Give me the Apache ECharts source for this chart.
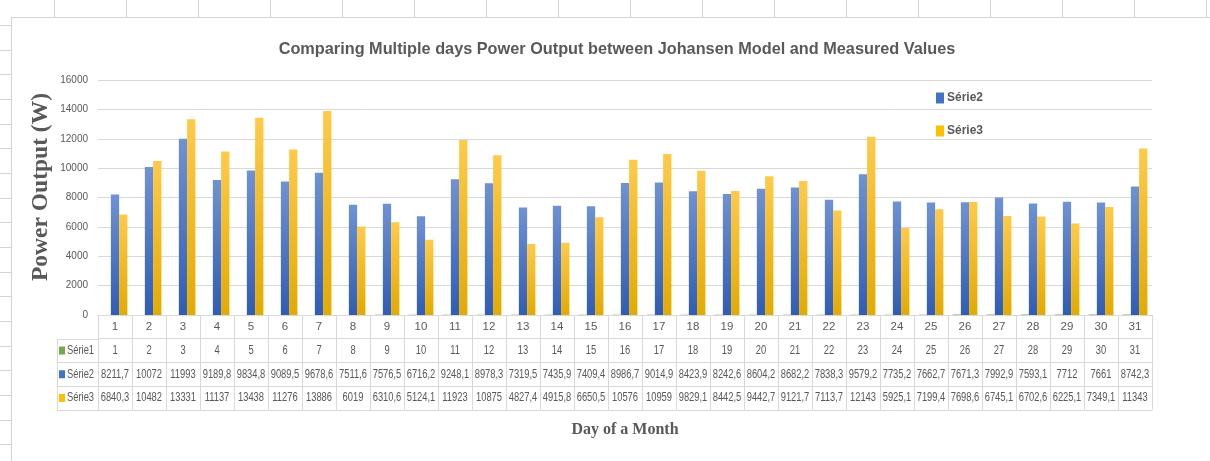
<!DOCTYPE html>
<html>
<head>
<meta charset="utf-8">
<script src="https://cdn.jsdelivr.net/npm/echarts@6/dist/echarts.min.js"></script>
<style>
  html, body { margin: 0; padding: 0; background: #ffffff; }
  #chart { width: 1210px; height: 461px; }
</style>
</head>
<body>
<div id="chart"></div>
<script>
// Days of the month (category axis and first row of the data table)
const days = ['1','2','3','4','5','6','7','8','9','10','11','12','13','14','15','16',
              '17','18','19','20','21','22','23','24','25','26','27','28','29','30','31'];

// Série1: day index series (drawn but practically flat on this scale)
const serie1 = [1,2,3,4,5,6,7,8,9,10,11,12,13,14,15,16,17,18,19,20,21,22,23,24,25,26,27,28,29,30,31];

// Série2: Johansen model power output (W)
const serie2 = [8211.7, 10072, 11993, 9189.8, 9834.8, 9089.5, 9678.6, 7511.6, 7576.5, 6716.2,
                9248.1, 8978.3, 7319.5, 7435.9, 7409.4, 8986.7, 9014.9, 8423.9, 8242.6, 8604.2,
                8682.2, 7838.3, 9579.2, 7735.2, 7662.7, 7671.3, 7992.9, 7593.1, 7712, 7661, 8742.3];

// Série3: measured power output (W)
const serie3 = [6840.3, 10482, 13331, 11137, 13438, 11276, 13886, 6019, 6310.6, 5124.1,
                11923, 10875, 4827.4, 4915.8, 6650.5, 10576, 10959, 9829.1, 8442.5, 9442.7,
                9121.7, 7113.7, 12143, 5925.1, 7199.4, 7698.6, 6745.1, 6702.6, 6225.1, 7349.1, 11343];

const seriesNames = ['Série1', 'Série2', 'Série3'];
const yMin = 0, yMax = 16000, yStep = 2000;

// ---- layout & style ----
const W = 1210, H = 461;
const GRID_L = 98, GRID_R = 1152, GRID_T = 80, GRID_B = 315;
const ROW_H = 23.7;          // data table row height
const TABLE_L = 57;          // left edge of the row-header column
const CELL_SCALE = 0.78;     // horizontal squeeze of the table text
const TEXT = '#595959';
const BORDER = '#d9d9d9';
const SHEET = '#d4d4d4';
const SANS = '"Liberation Sans", Arial, sans-serif';
const SERIF = '"Liberation Serif", "Times New Roman", serif';
const COLORS = ['#70ad47', '#4472c4', '#ffc000'];

const fmt = v => String(v).replace('.', ',');

function grad(top, bottom) {
  return new echarts.graphic.LinearGradient(0, 0, 0, 1, [
    { offset: 0, color: top },
    { offset: 1, color: bottom }
  ]);
}
const fills = [
  grad('#8cc36a', '#5e9a38'),
  grad('#6f92d4', '#2f5cb6'),
  grad('#ffca4a', '#e3aa00')
];

// One category axis per data-table row; its line and ticks form the cell borders
function tableAxis(row, withTicks, extra) {
  return Object.assign({
    type: 'category',
    gridIndex: 0,
    position: 'bottom',
    offset: ROW_H * row,
    data: days,
    boundaryGap: true,
    axisLine: { show: true, lineStyle: { color: BORDER, width: 1 } },
    axisTick: { show: withTicks, interval: 0, length: ROW_H, lineStyle: { color: BORDER, width: 1 } },
    axisLabel: { show: false },
    splitLine: { show: false }
  }, extra || {});
}

function cellText(x, y, text, align) {
  return {
    type: 'text', x: x, y: y, scaleX: CELL_SCALE, silent: true,
    style: { text: text, fill: TEXT, fontFamily: SANS, fontSize: 12,
             textAlign: align, textVerticalAlign: 'middle', align: align, verticalAlign: 'middle' }
  };
}

// Spreadsheet cell lines around the chart object
const sheet = [];
sheet.push({ type: 'line', shape: { x1: 11, y1: 17.5, x2: W, y2: 17.5 }, style: { stroke: SHEET, lineWidth: 1 }, silent: true });
sheet.push({ type: 'line', shape: { x1: 11.5, y1: 17, x2: 11.5, y2: H }, style: { stroke: SHEET, lineWidth: 1 }, silent: true });
for (let x = 54; x < W; x += 72) {
  sheet.push({ type: 'line', shape: { x1: x + 0.5, y1: 0, x2: x + 0.5, y2: 17 }, style: { stroke: SHEET, lineWidth: 1 }, silent: true });
}
for (let k = 1; 0.3 + 24.67 * k < H; k++) {
  const y = Math.round(0.3 + 24.67 * k) + 0.5;
  sheet.push({ type: 'line', shape: { x1: 0, y1: y, x2: 11, y2: y }, style: { stroke: SHEET, lineWidth: 1 }, silent: true });
}

// Row-header column of the data table
const header = [];
for (let k = 1; k <= 4; k++) {
  const y = Math.round(GRID_B + ROW_H * k) + 0.5;
  header.push({ type: 'line', shape: { x1: TABLE_L, y1: y, x2: GRID_L, y2: y }, style: { stroke: BORDER, lineWidth: 1 }, silent: true });
}
header.push({ type: 'line', shape: { x1: TABLE_L + 0.5, y1: GRID_B + ROW_H, x2: TABLE_L + 0.5, y2: GRID_B + ROW_H * 4 }, style: { stroke: BORDER, lineWidth: 1 }, silent: true });
seriesNames.forEach((name, i) => {
  const cy = GRID_B + ROW_H * (i + 1.5);
  header.push({ type: 'rect', shape: { x: 59, y: cy - 4, width: 6, height: 8 }, style: { fill: COLORS[i] }, silent: true });
  header.push(cellText(67, cy, name, 'left'));
});

// Vertical axis title
const yTitle = {
  type: 'text', x: 41, y: 187, rotation: Math.PI / 2, silent: true,
  style: { text: 'Power Output (W)', fill: TEXT, fontFamily: SERIF, fontWeight: 'bold', fontSize: 23.5,
           textAlign: 'center', textVerticalAlign: 'middle', align: 'center', verticalAlign: 'middle' }
};

const chart = echarts.init(document.getElementById('chart'), null, { renderer: 'canvas', width: W, height: H });

chart.setOption({
  backgroundColor: '#ffffff',
  animation: false,
  title: {
    text: 'Comparing Multiple days Power Output between Johansen Model and Measured Values',
    left: 612, textAlign: 'center', top: 37,
    textStyle: { fontFamily: SANS, fontWeight: 'bold', fontSize: 16.3, color: TEXT }
  },
  legend: {
    data: [
      { name: 'Série2', itemStyle: { color: COLORS[1] } },
      { name: 'Série3', itemStyle: { color: COLORS[2] } }
    ],
    orient: 'vertical',
    left: 931, top: 87,
    icon: 'rect', itemWidth: 8, itemHeight: 11, itemGap: 21,
    textStyle: { fontFamily: SANS, fontWeight: 'bold', fontSize: 12, color: TEXT, padding: [0, 0, 0, -2] }
  },
  grid: { left: GRID_L, right: W - GRID_R, top: GRID_T, bottom: H - GRID_B, containLabel: false },
  xAxis: [
    tableAxis(0, true, {
      axisLabel: { show: true, interval: 0, margin: 6, color: TEXT, fontFamily: SANS, fontSize: 11.5 }
    }),
    tableAxis(1, true),
    tableAxis(2, true),
    tableAxis(3, true),
    tableAxis(4, false, {
      name: 'Day of a Month', nameLocation: 'middle', nameGap: 12,
      nameTextStyle: { fontFamily: SERIF, fontWeight: 'bold', fontSize: 16, color: TEXT }
    })
  ],
  yAxis: {
    type: 'value', min: yMin, max: yMax, interval: yStep,
    axisLine: { show: false }, axisTick: { show: false },
    axisLabel: { color: TEXT, fontFamily: SANS, fontSize: 10, margin: 10, formatter: v => String(v) },
    splitLine: { lineStyle: { color: BORDER, width: 1 } }
  },
  series: [serie1, serie2, serie3].map((vals, i) => ({
    name: seriesNames[i],
    type: 'bar',
    xAxisIndex: 0,
    data: vals,
    barGap: '0%',
    barCategoryGap: '27%',
    itemStyle: {
      color: fills[i],
      shadowColor: 'rgba(0,0,0,0.25)', shadowBlur: 2, shadowOffsetX: 1, shadowOffsetY: 0
    },
    emphasis: { disabled: true }
  }))
});

// Data table values, centred on each day through the category axis
const cells = [];
[serie1, serie2, serie3].forEach((vals, r) => {
  const cy = GRID_B + ROW_H * (r + 1.5);
  vals.forEach((v, i) => {
    const cx = chart.convertToPixel({ xAxisIndex: 0 }, days[i]);
    cells.push(cellText(cx, cy, fmt(v), 'center'));
  });
});

chart.setOption({ graphic: { elements: sheet.concat(header, cells, [yTitle]) } });
</script>
</body>
</html>
